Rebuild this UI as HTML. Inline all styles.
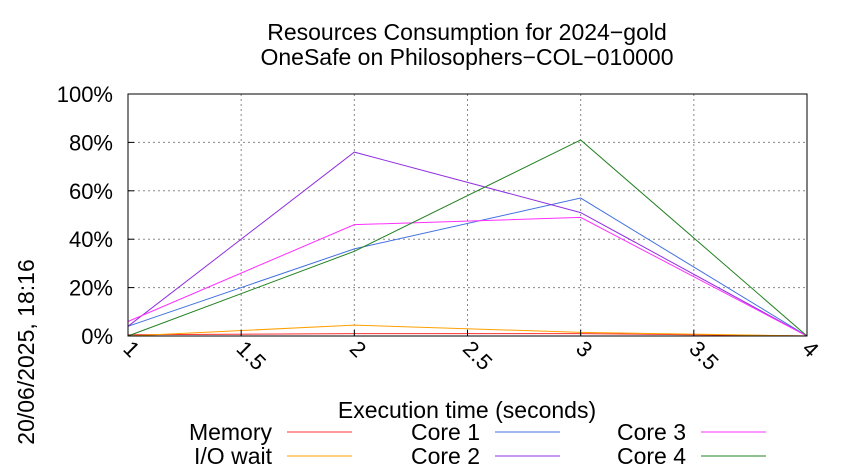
<!DOCTYPE html>
<html><head><meta charset="utf-8"><style>
body{margin:0;background:#fff}
svg{display:block;font-family:"Liberation Sans",sans-serif}
</style></head><body>
<svg id="chart" width="850" height="475" viewBox="0 0 850 475" xmlns="http://www.w3.org/2000/svg">
<g id="grid"></g>
<g id="series"></g>
<rect x="128" y="94" width="679" height="242" fill="none" stroke="#000" stroke-width="1"/>
<g id="ticks" font-size="22"></g>
<text x="467" y="40" font-size="23" text-anchor="middle">Resources Consumption for 2024−gold</text>
<text x="467" y="65" font-size="23" text-anchor="middle">OneSafe on Philosophers−COL−010000</text>
<text x="467" y="418" font-size="23" text-anchor="middle">Execution time (seconds)</text>
<text transform="translate(34,352) rotate(-90)" x="0" y="0" font-size="23" text-anchor="middle">20/06/2025, 18:16</text>
<g id="legend" font-size="23"></g>
</svg>
<script>
const xValues=[1,2,3,4];
const memory=[0.5,1,1,0];
const ioWait=[0,4.5,1.5,0];
const core1=[4,36,57,0];
const core2=[4,76,51,0];
const core3=[6,46,49,0];
const core4=[0,35,81,0];
const xTicks=[1,1.5,2,2.5,3,3.5,4];
const xTickLabels=["1","1.5","2","2.5","3","3.5","4"];
const yTicks=[0,20,40,60,80,100];
const yTickLabels=["0%","20%","40%","60%","80%","100%"];
const seriesNames=["Memory","I/O wait","Core 1","Core 2","Core 3","Core 4"];
const X0=128,X1=807,Y0=336,Y1=94;
const xs=v=>X0+(v-1)/(4-1)*(X1-X0);
const ys=v=>Y0-v/100*(Y0-Y1);
const NS="http://www.w3.org/2000/svg";
function mk(t,a,p){const e=document.createElementNS(NS,t);for(const k in a)e.setAttribute(k,a[k]);p.appendChild(e);return e;}
const grid=document.getElementById('grid'),ticks=document.getElementById('ticks');
xTicks.forEach((t,i)=>{
 const x=xs(t);
 const g=mk('line',{x1:x,x2:x,y1:Y1,y2:Y0,stroke:'#888','stroke-dasharray':'2,3','stroke-width':1},grid);
 
 
 const tk=mk('line',{x1:x,x2:x,y1:Y0,y2:Y0-6,stroke:'#000'},ticks);
 
 
 const tx=mk('text',{transform:`translate(${x-6},${Y0+14}) rotate(45)`},ticks);
 tx.textContent=xTickLabels[i];
 
 
});
yTicks.forEach((t,i)=>{
 const y=ys(t);
 const g=mk('line',{x1:X0,x2:X1,y1:y,y2:y,stroke:'#888','stroke-dasharray':'2,3','stroke-width':1},grid);
 
 
 const tk=mk('line',{x1:X0,x2:X0+6,y1:y,y2:y,stroke:'#000'},ticks);
 
 
 const tx=mk('text',{x:X0-15,y:y+8,'text-anchor':'end'},ticks);
 tx.textContent=yTickLabels[i];
 
 
});
const data=[memory,ioWait,core1,core2,core3,core4];
const colors=["#ff3030","#ffa000","#4070e0","#9030e0","#ff30ff","#208020"];
const sg=document.getElementById('series');
data.forEach((d,i)=>{
 const pts=d.map((v,j)=>xs(xValues[j])+','+ys(v)).join(' ');
 const p=mk('polyline',{points:pts,fill:'none',stroke:colors[i],'stroke-width':1},sg);
 
 
});
const lg=document.getElementById('legend');
const lx=[272,480,686],ly=[432,456];
seriesNames.forEach((n,i)=>{
 const c=Math.floor(i/2),r=i%2;
 const t=mk('text',{x:lx[c],y:ly[r]+8,'text-anchor':'end'},lg);
 t.textContent=n;
 
 
 const l=mk('line',{x1:lx[c]+15,x2:lx[c]+80,y1:ly[r],y2:ly[r],stroke:colors[i],'stroke-width':1},lg);
 
 
});
</script>
</body></html>
